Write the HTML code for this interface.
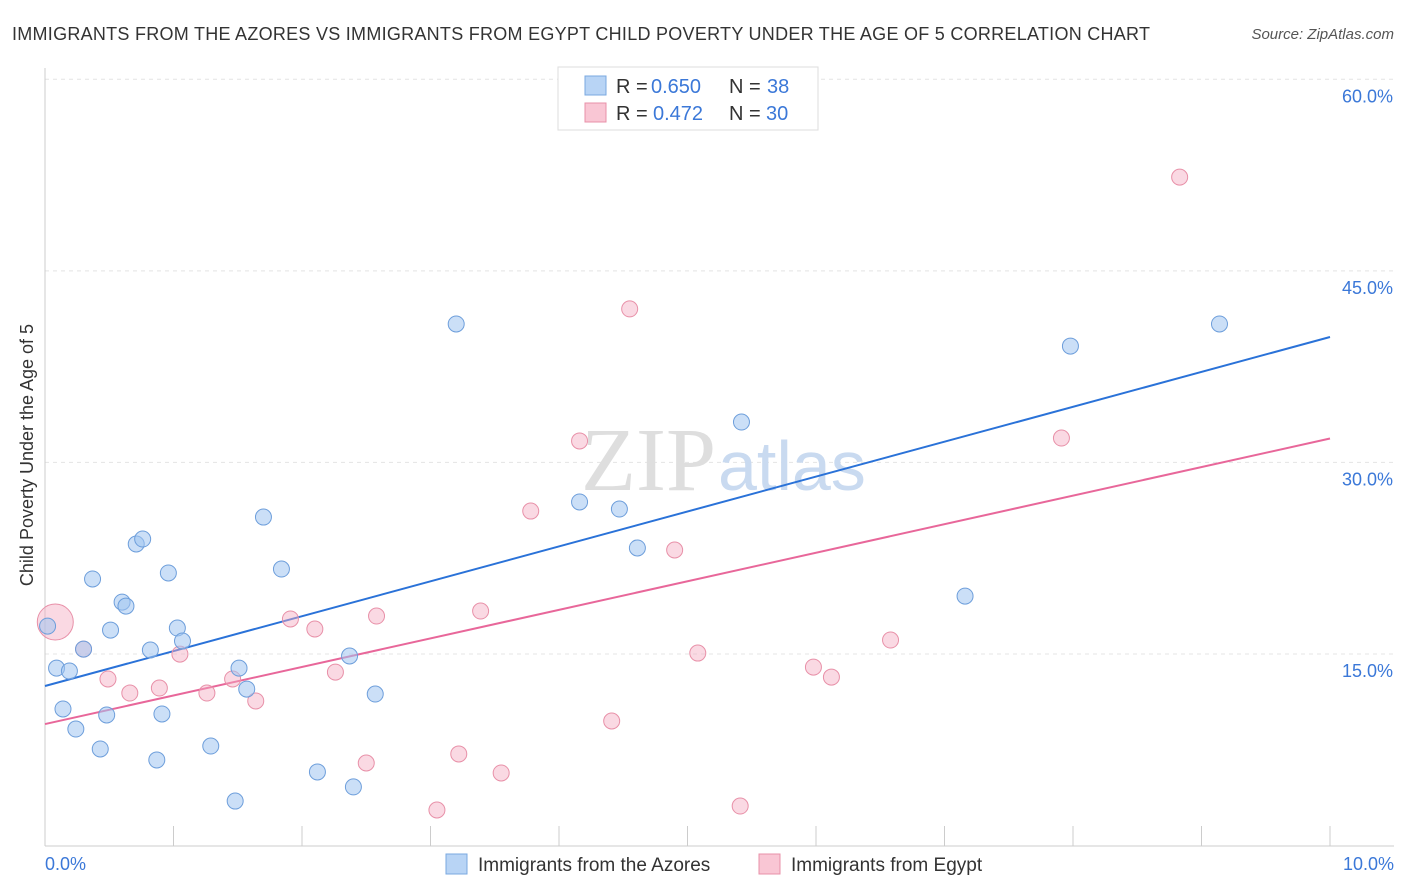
<!DOCTYPE html>
<html><head><meta charset="utf-8"><style>
body{margin:0;background:#fff;font-family:"Liberation Sans",sans-serif;}
svg{display:block}
</style></head><body>
<svg width="1406" height="892" xmlns="http://www.w3.org/2000/svg">
<text x="12" y="40" font-size="18" fill="#333" textLength="1138" lengthAdjust="spacing">IMMIGRANTS FROM THE AZORES VS IMMIGRANTS FROM EGYPT CHILD POVERTY UNDER THE AGE OF 5 CORRELATION CHART</text>
<text x="1394" y="39" font-size="15" fill="#555" font-style="italic" text-anchor="end">Source: ZipAtlas.com</text>
<g id="grid"></g>
<text x="716" y="490" font-size="90" fill="#dedede" text-anchor="end" font-family="Liberation Serif,serif">ZIP</text>
<text x="718" y="490" font-size="70" fill="#c9daf0">atlas</text>
<line x1="45" y1="68" x2="45" y2="846" stroke="#ccc"/>
<line x1="45" y1="846" x2="1394" y2="846" stroke="#ccc"/>
<g id="ticks"></g>
<g id="lines"></g>
<g id="points"></g>
<text x="33" y="455" font-size="18" fill="#333" text-anchor="middle" transform="rotate(-90 33 455)">Child Poverty Under the Age of 5</text>
<text x="45" y="870" font-size="18" fill="#3b78d8">0.0%</text>
<text x="1394" y="870" font-size="18" fill="#3b78d8" text-anchor="end">10.0%</text>
<g>
<rect x="558" y="67" width="260" height="63" fill="#fff" stroke="#ddd"/>
<rect x="585" y="76" width="21" height="19" fill="#b8d4f5" stroke="#7aa8e0"/>
<rect x="585" y="103" width="21" height="19" fill="#f9c6d4" stroke="#e890a8"/>
<text x="616" y="93" font-size="20" fill="#333">R =</text>
<text x="651" y="93" font-size="20" fill="#3b78d8">0.650</text>
<text x="729" y="93" font-size="20" fill="#333">N =</text>
<text x="767" y="93" font-size="20" fill="#3b78d8">38</text>
<text x="616" y="120" font-size="20" fill="#333">R =</text>
<text x="653" y="120" font-size="20" fill="#3b78d8">0.472</text>
<text x="729" y="120" font-size="20" fill="#333">N =</text>
<text x="766" y="120" font-size="20" fill="#3b78d8">30</text>
</g>
<g>
<rect x="446" y="854" width="21" height="20" fill="#b8d4f5" stroke="#7aa8e0"/>
<text x="478" y="871" font-size="19" fill="#333">Immigrants from the Azores</text>
<rect x="759" y="854" width="21" height="20" fill="#f9c6d4" stroke="#e890a8"/>
<text x="791" y="871" font-size="19" fill="#333">Immigrants from Egypt</text>
</g>
</svg>
<script>
const yTicks=[15,30,45,60];
const yTickLabels=["15.0%","30.0%","45.0%","60.0%"];
const xTicks=[0,1,2,3,4,5,6,7,8,9,10];
const azoresX=[0.02,0.09,0.19,0.14,0.24,0.30,0.37,0.43,0.48,0.51,0.60,0.63,0.71,0.76,0.82,0.87,0.91,0.96,1.03,1.07,1.29,1.48,1.51,1.57,1.70,1.84,2.12,2.37,2.40,2.57,3.20,4.16,4.47,4.61,5.42,7.16,7.98,9.14];
const azoresY=[17.18,13.89,13.66,10.69,9.12,15.38,20.87,7.56,10.22,16.87,19.06,18.75,23.61,24.0,15.31,6.70,10.30,21.34,17.03,16.01,7.79,3.48,13.89,12.25,25.72,21.65,5.76,14.84,4.59,11.86,40.84,26.90,26.35,23.30,33.16,19.53,39.11,40.84];
const egyptX=[0.08,0.30,0.49,0.66,0.89,1.05,1.26,1.46,1.64,1.91,2.10,2.26,2.50,2.58,3.05,3.22,3.39,3.55,3.78,4.16,4.41,4.55,4.90,5.08,5.41,5.98,6.12,6.58,7.91,8.83];
const egyptY=[17.50,15.38,13.04,11.94,12.33,14.99,11.94,13.04,11.32,17.74,16.95,13.58,6.46,17.97,2.78,7.17,18.36,5.68,26.19,31.68,9.75,42.02,23.14,15.07,3.09,13.97,13.19,16.09,31.91,52.34];
const azoresTrend=[12.49,39.82];
const egyptTrend=[9.51,31.87];
const NS="http://www.w3.org/2000/svg";
const sx=v=>45+v*128.5;
const sy=v=>845.5-v*12.77;
function mk(t,a,p){const e=document.createElementNS(NS,t);for(const k in a)e.setAttribute(k,a[k]);document.getElementById(p).appendChild(e);return e;}
yTicks.forEach((v,i)=>{
 const l=mk('line',{x1:45,x2:1394,y1:sy(v),y2:sy(v),stroke:'#e4e4e4','stroke-dasharray':'4 4'},'grid');
 
 
 const t=mk('text',{x:1393,y:sy(v)+23,'font-size':18,fill:'#3b78d8','text-anchor':'end'},'grid');
 t.textContent=yTickLabels[i];
 
 
});
xTicks.forEach(v=>{
 const l=mk('line',{x1:sx(v),x2:sx(v),y1:826,y2:846,stroke:'#ccc'},'ticks');
 
 
});
let tl=mk('line',{x1:sx(0),y1:sy(azoresTrend[0]),x2:sx(10),y2:sy(azoresTrend[1]),stroke:'#2a72d8','stroke-width':2},'lines');


tl=mk('line',{x1:sx(0),y1:sy(egyptTrend[0]),x2:sx(10),y2:sy(egyptTrend[1]),stroke:'#e8679a','stroke-width':2},'lines');


egyptX.forEach((x,i)=>{
 const c=mk('circle',{cx:sx(x),cy:sy(egyptY[i]),r:i===0?18:8,fill:'rgba(245,170,192,0.45)',stroke:'#e890a8','stroke-width':1},'points');
 
 
});
azoresX.forEach((x,i)=>{
 const c=mk('circle',{cx:sx(x),cy:sy(azoresY[i]),r:8,fill:'rgba(160,196,240,0.55)',stroke:'#6d9edb','stroke-width':1},'points');
 
 
});
</script>
</body></html>
